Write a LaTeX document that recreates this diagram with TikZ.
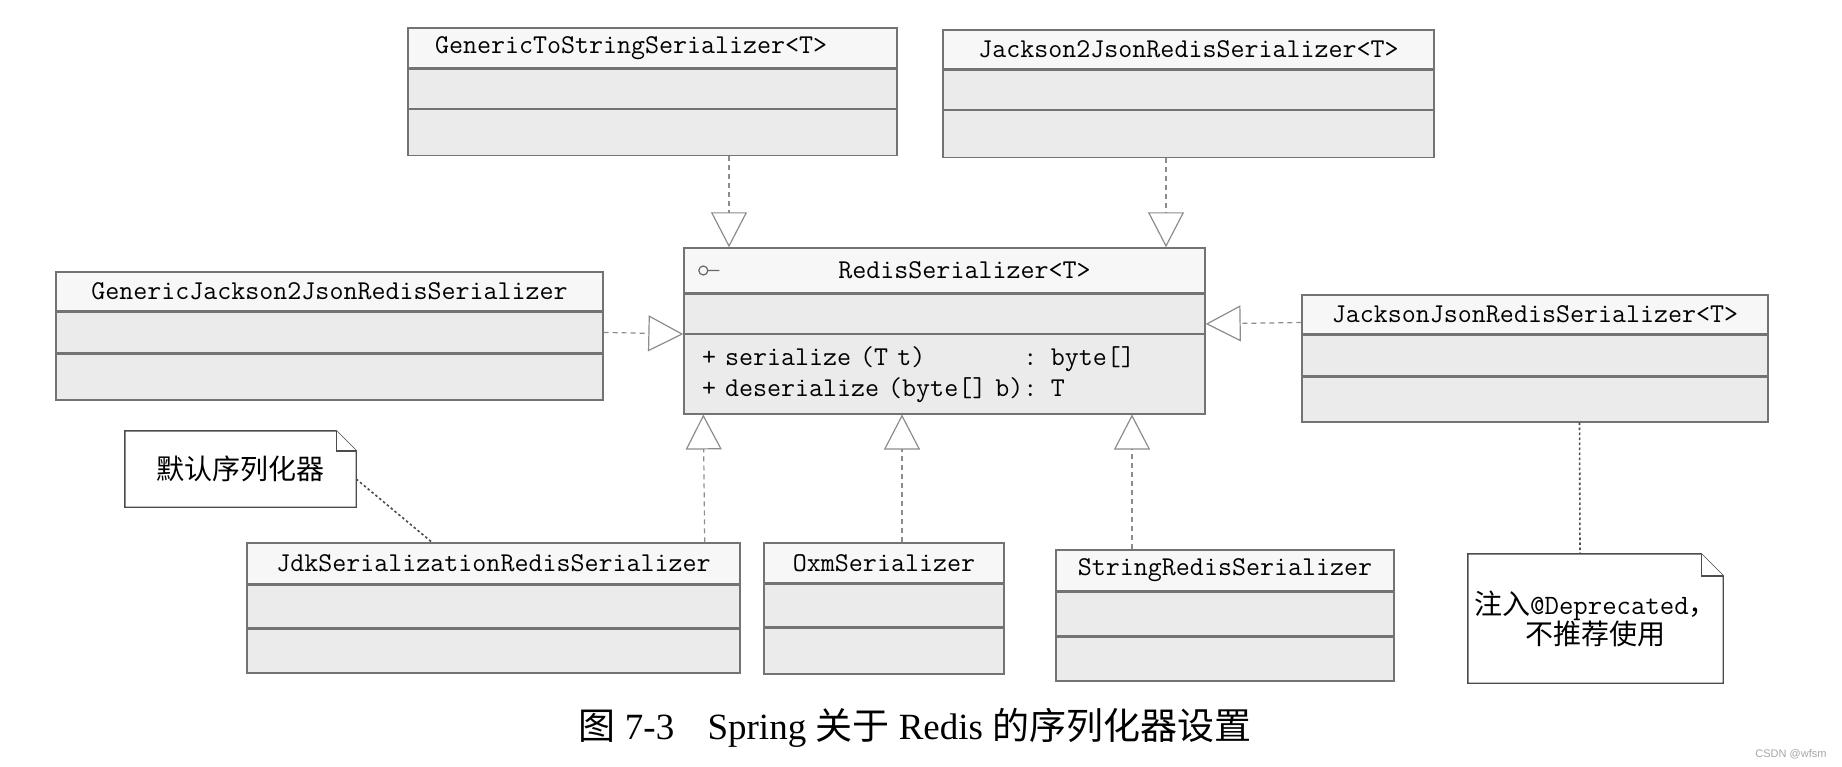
\documentclass[tikz,border=0pt]{standalone}
\usepackage{fontspec}
\setmainfont{Liberation Serif}
\setsansfont{Liberation Sans}
\newfontfamily\cjk{Noto Sans CJK SC}
\usetikzlibrary{positioning, arrows.meta}
\tikzstyle{cls} = [rectangle, draw=black!55, line width=1.4pt, fill=gray!6, minimum height=40pt, inner ysep=2pt, font=\ttfamily\fontsize{27.2pt}{31pt}\selectfont]
\tikzstyle{clsmid} = [cls, fill=gray!16]
\tikzstyle{clslow} = [cls, fill=gray!16, minimum height=46pt]
\tikzstyle{clsnote} = [rectangle, align=center, font=\ttfamily\fontsize{28pt}{30pt}\selectfont]
\tikzstyle{notebox} = [draw=black!70, line width=1.4pt, fill=white]
\tikzstyle{impl} = [draw=black!45, line width=1.2pt, dash pattern=on 5pt off 4pt, -{Triangle[open, length=35pt, width=36pt]}]
\tikzstyle{link} = [draw=black!70, line width=1.6pt, dash pattern=on 2.5pt off 2.5pt]

\begin{document}
\begin{tikzpicture}[x=1pt, y=-1pt]
\useasboundingbox (0,0) rectangle (1842,767);

% interface
\node (rs) [cls, minimum width=521pt, minimum height=45pt] at (944.5,270.5) {\hspace*{40pt}RedisSerializer<T>};
\node (rs1) [clsmid, minimum width=521pt, minimum height=39pt, below=0pt of rs] {};
\node (rs2) [clslow, minimum height=79pt, text width=485pt, inner xsep=18pt, align=left, below=0pt of rs1]
{+ serialize (T t)\hphantom{1234567}: byte[]\\+ deserialize (byte[] b): T};
\draw [black!60, line width=1.2pt] ([xshift=20pt]rs.west) circle (4.5pt) ([xshift=24.5pt]rs.west) -- ([xshift=36pt]rs.west);

% implementations
\node (gts) [cls, minimum width=489pt, text width=435pt, inner xsep=27pt, align=left] at (652.5,48) {GenericToStringSerializer<T>};
\node (gts1) [clsmid, minimum width=489pt, minimum height=39pt, below=0pt of gts] {};
\node (gts2) [clslow, minimum width=489pt, below=0pt of gts1] {};

\node (j2j) [cls, minimum width=491pt, minimum height=39pt] at (1188.5,49.5) {Jackson2JsonRedisSerializer<T>};
\node (j2j1) [clsmid, minimum width=491pt, minimum height=39pt, below=0pt of j2j] {};
\node (j2j2) [clslow, minimum width=491pt, minimum height=47pt, below=0pt of j2j1] {};

\node (gj2j) [cls, minimum width=547pt, minimum height=39pt] at (329.5,291.5) {GenericJackson2JsonRedisSerializer};
\node (gj2j1) [clsmid, minimum width=547pt, below=0pt of gj2j] {};
\node (gj2j2) [clslow, minimum width=547pt, below=0pt of gj2j1] {};

\node (jj) [cls, minimum width=466pt, minimum height=39pt] at (1535,314.5) {JacksonJsonRedisSerializer<T>};
\node (jj1) [clsmid, minimum width=466pt, below=0pt of jj] {};
\node (jj2) [clslow, minimum width=466pt, minimum height=45pt, below=0pt of jj1] {};

\node (jdk) [cls, minimum width=493pt, minimum height=41pt] at (493.5,563.5) {JdkSerializationRedisSerializer};
\node (jdk1) [clsmid, minimum width=493pt, minimum height=42pt, below=0pt of jdk] {};
\node (jdk2) [clslow, minimum width=493pt, minimum height=44pt, below=0pt of jdk1] {};

\node (oxm) [cls, minimum width=240pt] at (884,563) {OxmSerializer};
\node (oxm1) [clsmid, minimum width=240pt, minimum height=42pt, below=0pt of oxm] {};
\node (oxm2) [clslow, minimum width=240pt, below=0pt of oxm1] {};

\node (srs) [cls, minimum width=338pt, minimum height=41pt] at (1225,570.5) {StringRedisSerializer};
\node (srs1) [clsmid, minimum width=338pt, minimum height=43pt, below=0pt of srs] {};
\node (srs2) [clslow, minimum width=338pt, minimum height=44pt, below=0pt of srs1] {};

% notes
\node (dflt) [clsnote, minimum width=231pt, minimum height=76pt] at (240.5,469) {};
\draw [notebox] (dflt.north west) -- ([xshift=-20pt]dflt.north east) -- ([yshift=-20pt]dflt.north east) -- (dflt.south east) -- (dflt.south west) -- cycle;
\draw [notebox] ([xshift=-20pt]dflt.north east) |- ([yshift=-20pt]dflt.north east);
\node [clsnote] at (dflt) {{\cjk 默认序列化器}};

\node (depr) [clsnote, minimum width=255pt, minimum height=129pt] at (1595.5,618.5) {};
\draw [notebox] (depr.north west) -- ([xshift=-22pt]depr.north east) -- ([yshift=-22pt]depr.north east) -- (depr.south east) -- (depr.south west) -- cycle;
\draw [notebox] ([xshift=-22pt]depr.north east) |- ([yshift=-22pt]depr.north east);
\node [clsnote] at (depr) {{\cjk 注入}@Deprecated{\cjk ，}\\{\cjk 不推荐使用}};

\draw [impl] ([xshift=76.5pt]gts2.south) -- ([xshift=-215.5pt]rs.north);
\draw [impl] ([xshift=-22.5pt]j2j2.south) -- ([xshift=221.5pt]rs.north);
\draw [impl] (gj2j1.east) -- (rs1.south west);
\draw [impl] ([yshift=-8pt]jj.west) -- ([yshift=-10pt]rs1.east);
\draw [impl] ([xshift=-36pt]jdk.north east) -- ([xshift=20pt]rs2.south west);
\draw [impl] ([xshift=18pt]oxm.north) -- ([xshift=-42.5pt]rs2.south);
\draw [impl] ([xshift=-93pt]srs.north) -- ([xshift=187.5pt]rs2.south);

\draw [link] ([yshift=-10pt]dflt.east) -- ([xshift=-61.5pt]jdk.north);
\draw [link] ([xshift=44.5pt]jj2.south) -- ([xshift=-15.5pt]depr.north);

\node (cap) [font=\fontsize{37pt}{40pt}\selectfont] at (915,728) {{\cjk 图} 7-3\hspace{0.9em}Spring {\cjk 关于} Redis {\cjk 的序列化器设置}};
\node (wm) [font=\sffamily\fontsize{11pt}{12pt}\selectfont, text=gray!70, anchor=east] at (1830,754) {CSDN @wfsm};

\end{tikzpicture}
\end{document}
